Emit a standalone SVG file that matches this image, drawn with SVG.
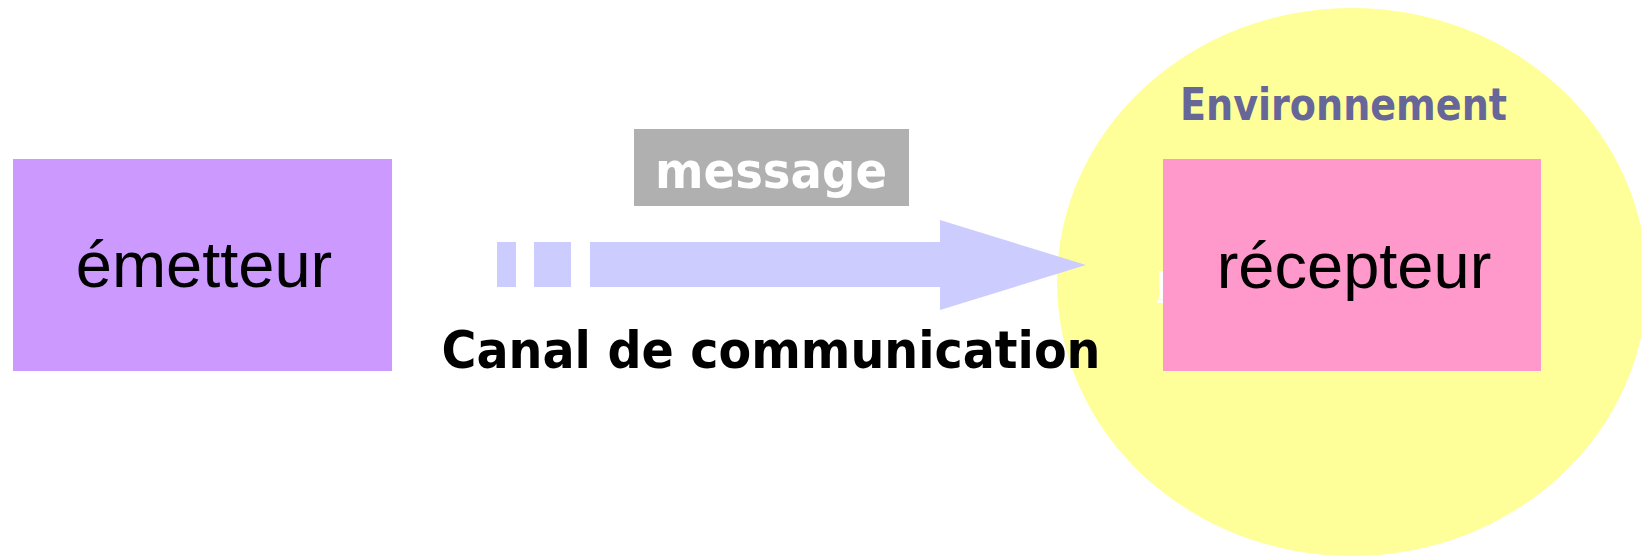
<svg xmlns="http://www.w3.org/2000/svg" width="1641" height="556" viewBox="0 0 1641 556">
<style>
.box-text{font-family:"Liberation Sans",Arial,sans-serif;font-size:65px;fill:#000;text-anchor:middle}
.bold{font-family:"DejaVu Sans",Verdana,sans-serif;font-weight:bold}
.arrow{fill:#ccccff}
</style>
<rect width="1641" height="556" fill="#ffffff"/>
<g id="environnement">
<ellipse cx="1352" cy="282" rx="295" ry="274" fill="#ffff99"/>
<text class="bold" x="1343.5" y="120" font-size="45" fill="#666699" text-anchor="middle" textLength="327" lengthAdjust="spacingAndGlyphs">Environnement</text>
<rect x="1159" y="271" width="5" height="28" fill="#ffffff"/>
<rect x="1157" y="300" width="7" height="3" fill="#ffffff"/>
</g>
<g id="emetteur">
<rect x="13" y="159" width="379" height="212" fill="#cc99ff"/>
<text class="box-text" x="204" y="287">émetteur</text>
</g>
<g id="recepteur">
<rect x="1163" y="159" width="378" height="212" fill="#ff99cc"/>
<text class="box-text" x="1354" y="288">récepteur</text>
</g>
<g id="message">
<rect x="634" y="129" width="275" height="77" fill="#b0b0b0"/>
<text class="bold" x="771" y="188" font-size="50" fill="#ffffff" text-anchor="middle" textLength="232" lengthAdjust="spacingAndGlyphs">message</text>
</g>
<g id="connectors">
<rect class="arrow" x="497" y="242" width="19" height="45"/>
<rect class="arrow" x="534" y="242" width="37" height="45"/>
<polygon class="arrow" points="590,242 940,242 940,220 1086,265 940,310 940,287 590,287"/>
</g>
<g id="canal">
<text class="bold" x="771" y="368" font-size="51" fill="#000000" text-anchor="middle" textLength="659" lengthAdjust="spacingAndGlyphs">Canal de communication</text>
</g>
</svg>
